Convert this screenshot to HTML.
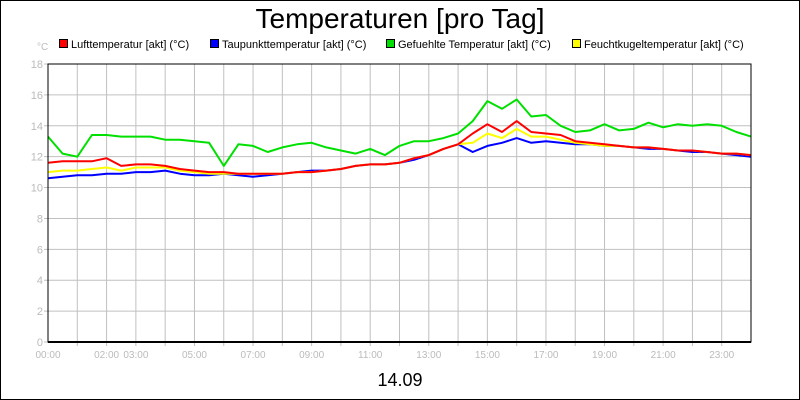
<!DOCTYPE html>
<html><head><meta charset="utf-8"><style>
body{margin:0;background:#fff;}
svg{display:block;font-family:"Liberation Sans",sans-serif;}
</style></head><body>
<svg id="chart" width="800" height="400">
<rect x="0.5" y="0.5" width="799" height="399" fill="#fff" stroke="#000"/>
<text x="400" y="28" font-size="28" text-anchor="middle">Temperaturen [pro Tag]</text>
<text x="37" y="50" font-size="10" fill="#bbb">°C</text>
<g id="legend"></g>
<g id="grid"></g><g id="series"></g><g id="axes"></g>
<text x="400" y="386" font-size="18" text-anchor="middle">14.09</text>
</svg>
<script>
const times=[0,0.5,1,1.5,2,2.5,3,3.5,4,4.5,5,5.5,6,6.5,7,7.5,8,8.5,9,9.5,10,10.5,11,11.5,12,12.5,13,13.5,14,14.5,15,15.5,16,16.5,17,17.5,18,18.5,19,19.5,20,20.5,21,21.5,22,22.5,23,23.5,24];
const luft=[11.6,11.7,11.7,11.7,11.9,11.4,11.5,11.5,11.4,11.2,11.1,11.0,11.0,10.9,10.9,10.9,10.9,11.0,11.0,11.1,11.2,11.4,11.5,11.5,11.6,11.9,12.1,12.5,12.8,13.5,14.1,13.6,14.3,13.6,13.5,13.4,13.0,12.9,12.8,12.7,12.6,12.6,12.5,12.4,12.4,12.3,12.2,12.2,12.1];
const taupunkt=[10.6,10.7,10.8,10.8,10.9,10.9,11.0,11.0,11.1,10.9,10.8,10.8,10.9,10.8,10.7,10.8,10.9,11.0,11.1,11.1,11.2,11.4,11.5,11.5,11.6,11.8,12.1,12.5,12.8,12.3,12.7,12.9,13.2,12.9,13.0,12.9,12.8,12.8,12.7,12.7,12.6,12.5,12.5,12.4,12.3,12.3,12.2,12.1,12.0];
const gefuehlt=[13.3,12.2,12.0,13.4,13.4,13.3,13.3,13.3,13.1,13.1,13.0,12.9,11.4,12.8,12.7,12.3,12.6,12.8,12.9,12.6,12.4,12.2,12.5,12.1,12.7,13.0,13.0,13.2,13.5,14.3,15.6,15.1,15.7,14.6,14.7,14.0,13.6,13.7,14.1,13.7,13.8,14.2,13.9,14.1,14.0,14.1,14.0,13.6,13.3];
const feuchtkugel=[11.0,11.1,11.1,11.2,11.3,11.1,11.3,11.3,11.3,11.1,11.0,10.9,10.9,10.9,10.9,10.9,10.9,11.0,11.0,11.1,11.2,11.4,11.5,11.5,11.6,11.9,12.1,12.5,12.8,12.9,13.5,13.2,13.8,13.3,13.3,13.1,12.9,12.8,12.7,12.7,12.6,12.6,12.5,12.4,12.4,12.3,12.2,12.2,12.1];
const yTicks=[0,2,4,6,8,10,12,14,16,18];
const xTickHours=[0,2,3,5,7,9,11,13,15,17,19,21,23];
const xTickLabels=["00:00","02:00","03:00","05:00","07:00","09:00","11:00","13:00","15:00","17:00","19:00","21:00","23:00"];
const seriesNames=["Lufttemperatur [akt] (°C)","Taupunkttemperatur [akt] (°C)","Gefuehlte Temperatur [akt] (°C)","Feuchtkugeltemperatur [akt] (°C)"];
const seriesColors=["#ff0000","#0000ff","#00e000","#ffff00"];
const legendX=[59,210,386,572];

const NS="http://www.w3.org/2000/svg";
const X0=48,X1=751,Y0=342,Y1=64;
const xs=h=>X0+(X1-X0)*h/24;
const ys=v=>Y0-(Y0-Y1)*v/18;
function mk(t,a,p){const e=document.createElementNS(NS,t);for(const k in a)e.setAttribute(k,a[k]);p.appendChild(e);return e;}
const grid=document.getElementById('grid'),axes=document.getElementById('axes'),ser=document.getElementById('series'),leg=document.getElementById('legend');
for(let h=1;h<24;h++){const l=mk('line',{x1:xs(h),x2:xs(h),y1:Y1,y2:Y0+4,stroke:'#c0c0c0'},grid);

}
yTicks.forEach(v=>{const l=mk('line',{x1:X0-4,x2:X1,y1:ys(v),y2:ys(v),stroke:'#c0c0c0'},grid);


const t=mk('text',{x:X0-5,y:ys(v)+4,'font-size':11,fill:'#bbb','text-anchor':'end'},axes);t.textContent=v;

});
xTickHours.forEach((h,i)=>{const t=mk('text',{x:xs(h),y:358,'font-size':10,fill:'#bbb','text-anchor':'middle'},axes);t.textContent=xTickLabels[i];

});
const fr=mk('rect',{x:X0,y:Y1,width:X1-X0,height:Y0-Y1,fill:'none',stroke:'#000'},axes);


const bl=mk('line',{x1:X0,x2:X1,y1:Y0,y2:Y0,stroke:'#000','stroke-width':2},axes);


const data=[luft,taupunkt,gefuehlt,feuchtkugel];
const order=[2,1,3,0];
order.forEach(i=>{const d=times.map((h,j)=>(j?'L':'M')+xs(h).toFixed(1)+','+ys(data[i][j]).toFixed(1)).join('');
const p=mk('path',{d:d,fill:'none',stroke:seriesColors[i],'stroke-width':2,'stroke-linejoin':'round'},ser);

});
seriesNames.forEach((n,i)=>{const g=mk('g',{},leg);


mk('rect',{x:legendX[i]+0.5,y:39.5,width:8,height:8,fill:seriesColors[i],stroke:'#000'},g);
const t=mk('text',{x:legendX[i]+12,y:48,'font-size':11},g);t.textContent=n;});
</script>
</body></html>
